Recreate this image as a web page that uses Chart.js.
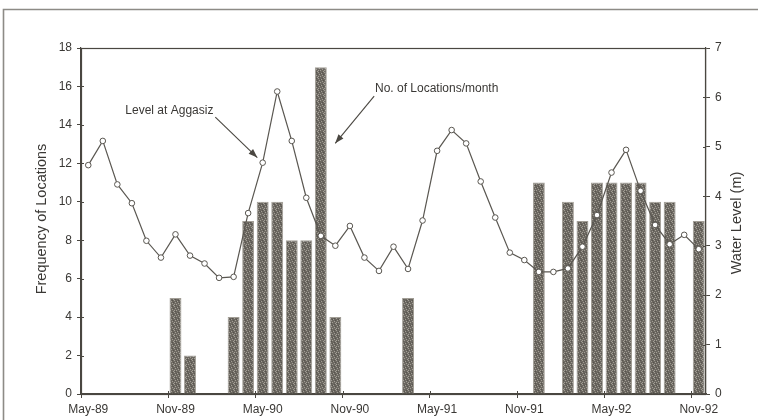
<!DOCTYPE html>
<html>
<head>
<meta charset="utf-8">
<script src="https://cdn.jsdelivr.net/npm/chart.js@4/dist/chart.umd.min.js"></script>
<style>
  html, body { margin: 0; padding: 0; background: #ffffff; }
  canvas { display: block; }
</style>
</head>
<body>
<canvas id="c" width="758" height="420"></canvas>
<script>
// Monthly categories, May-89 through Nov-92
const months = [
  "May-89","Jun-89","Jul-89","Aug-89","Sep-89","Oct-89","Nov-89","Dec-89",
  "Jan-90","Feb-90","Mar-90","Apr-90","May-90","Jun-90","Jul-90","Aug-90","Sep-90","Oct-90","Nov-90","Dec-90",
  "Jan-91","Feb-91","Mar-91","Apr-91","May-91","Jun-91","Jul-91","Aug-91","Sep-91","Oct-91","Nov-91","Dec-91",
  "Jan-92","Feb-92","Mar-92","Apr-92","May-92","Jun-92","Jul-92","Aug-92","Sep-92","Oct-92","Nov-92"
];

// Number of locations recorded per month (left axis)
const locationsPerMonth = [
  null, null, null, null, null, null, 5, 2,
  null, null, 4, 9, 10, 10, 8, 8, 17, 4, null, null,
  null, null, 5, null, null, null, null, null, null, null, null, 11,
  null, 10, 9, 11, 11, 11, 11, 10, 10, null, 9
];

// Water level at Aggasiz in metres (right axis)
const waterLevel = [
  4.63, 5.12, 4.24, 3.86, 3.10, 2.76, 3.23, 2.80,
  2.64, 2.35, 2.37, 3.66, 4.68, 6.12, 5.12, 3.97, 3.20, 3.00, 3.40, 2.76,
  2.49, 2.98, 2.53, 3.51, 4.92, 5.34, 5.07, 4.30, 3.57, 2.86, 2.71, 2.47,
  2.47, 2.54, 2.98, 3.62, 4.48, 4.94, 4.11, 3.42, 3.03, 3.22, 2.93
];

const freqTicks = { min: 0, max: 18, step: 2 };
const levelTicks = { min: 0, max: 7, step: 1 };

const FONT = "'Liberation Sans', Arial, sans-serif";
const INK = "#4a4741";
const TEXT = "#3a3835";

// Stippled grey fill for the bars
function makeBarPattern() {
  const t = document.createElement("canvas");
  t.width = 6; t.height = 6;
  const g = t.getContext("2d");
  g.fillStyle = "#6c6861";
  g.fillRect(0, 0, 6, 6);
  g.fillStyle = "#a29e95";
  [[0,0],[3,1],[1,2],[4,3],[2,4],[5,5],[0,4]].forEach(p => g.fillRect(p[0], p[1], 1, 1));
  g.fillStyle = "#57544e";
  [[2,1],[5,2],[1,5],[4,0]].forEach(p => g.fillRect(p[0], p[1], 1, 1));
  return document.getElementById("c").getContext("2d").createPattern(t, "repeat");
}

function drawArrow(ctx, x0, y0, x1, y1) {
  ctx.save();
  ctx.strokeStyle = INK;
  ctx.fillStyle = INK;
  ctx.lineWidth = 1.1;
  ctx.beginPath();
  ctx.moveTo(x0, y0);
  ctx.lineTo(x1, y1);
  ctx.stroke();
  const a = Math.atan2(y1 - y0, x1 - x0);
  const len = 9, half = 3.2;
  ctx.beginPath();
  ctx.moveTo(x1, y1);
  ctx.lineTo(x1 - len * Math.cos(a) + half * Math.sin(a), y1 - len * Math.sin(a) - half * Math.cos(a));
  ctx.lineTo(x1 - len * Math.cos(a) - half * Math.sin(a), y1 - len * Math.sin(a) + half * Math.cos(a));
  ctx.closePath();
  ctx.fill();
  ctx.restore();
}

// Callout labels, anchored in category index / left-axis units
const callouts = [
  { text: "Level at Aggasiz", tx: 5.58, ty: 14.72, from: [8.74, 14.4], to: [11.63, 12.3] },
  { text: "No. of Locations/month", tx: 23.97, ty: 15.88, from: [19.67, 15.5], to: [16.99, 13.04] }
];

const framePlugin = {
  id: "frame",
  beforeDraw(chart) {
    const ctx = chart.ctx;
    ctx.save();
    ctx.fillStyle = "#ffffff";
    ctx.fillRect(0, 0, chart.width, chart.height);
    ctx.strokeStyle = "#8d8b86";
    ctx.lineWidth = 1.6;
    ctx.beginPath();
    ctx.moveTo(3.5, chart.height + 5);
    ctx.lineTo(3.5, 9.5);
    ctx.lineTo(chart.width + 5, 9.5);
    ctx.stroke();
    ctx.restore();
  },
  afterDraw(chart) {
    const ctx = chart.ctx;
    const a = chart.chartArea;
    const xs = chart.scales.x, ys = chart.scales.y, ys1 = chart.scales.y1;
    ctx.save();
    // plot box
    ctx.strokeStyle = INK;
    ctx.lineWidth = 1.2;
    ctx.strokeRect(Math.round(a.left) + 0.5, Math.round(a.top) + 0.5,
                   Math.round(a.right - a.left) - 1, Math.round(a.bottom - a.top));
    // inner halves of the tick marks
    ctx.lineWidth = 1;
    ctx.beginPath();
    for (let v = freqTicks.min; v <= freqTicks.max; v += freqTicks.step) {
      const y = Math.round(ys.getPixelForValue(v)) + 0.5;
      ctx.moveTo(a.left, y); ctx.lineTo(a.left + 3, y);
    }
    for (let v = levelTicks.min; v <= levelTicks.max; v += levelTicks.step) {
      const y = Math.round(ys1.getPixelForValue(v)) + 0.5;
      ctx.moveTo(a.right - 3, y); ctx.lineTo(a.right, y);
    }
    for (let i = 0; i < months.length; i += 6) {
      const x = Math.round(xs.getPixelForValue(i - 0.5)) + 0.5;
      ctx.moveTo(x, a.bottom); ctx.lineTo(x, a.bottom - 3);
    }
    ctx.stroke();

    // axis titles
    ctx.fillStyle = TEXT;
    ctx.font = "14.5px " + FONT;
    ctx.textAlign = "center";
    ctx.textBaseline = "middle";
    const midY = (a.top + a.bottom) / 2;
    ctx.save();
    ctx.translate(42, midY - 2);
    ctx.rotate(-Math.PI / 2);
    ctx.fillText("Frequency of Locations", 0, 0);
    ctx.restore();
    ctx.save();
    ctx.translate(737, midY + 2);
    ctx.rotate(-Math.PI / 2);
    ctx.fillText("Water Level (m)", 0, 0);
    ctx.restore();

    // callouts
    ctx.font = "12px " + FONT;
    callouts.forEach(c => {
      ctx.fillStyle = TEXT;
      ctx.fillText(c.text, xs.getPixelForValue(c.tx), ys.getPixelForValue(c.ty));
      drawArrow(ctx,
        xs.getPixelForValue(c.from[0]), ys.getPixelForValue(c.from[1]),
        xs.getPixelForValue(c.to[0]), ys.getPixelForValue(c.to[1]));
    });
    ctx.restore();
  }
};

const tickFont = { family: FONT, size: 12 };

new Chart(document.getElementById("c"), {
  data: {
    labels: months,
    datasets: [
      {
        type: "line",
        label: "Level at Aggasiz",
        data: waterLevel,
        yAxisID: "y1",
        order: 0,
        borderColor: "#5a5751",
        borderWidth: 1.2,
        tension: 0,
        pointRadius: 2.8,
        pointBackgroundColor: "#ffffff",
        pointBorderColor: "#5a5751",
        pointBorderWidth: 1
      },
      {
        type: "bar",
        label: "No. of Locations/month",
        data: locationsPerMonth,
        yAxisID: "y",
        order: 1,
        backgroundColor: makeBarPattern(),
        borderColor: "#a29e96",
        borderWidth: 1,
        barPercentage: 0.82,
        categoryPercentage: 1.0
      }
    ]
  },
  options: {
    responsive: false,
    animation: false,
    events: [],
    layout: { padding: { top: 48, left: 0, right: 0, bottom: 0 } },
    plugins: { legend: { display: false }, tooltip: { enabled: false } },
    scales: {
      x: {
        type: "category",
        offset: true,
        afterFit(s) { s.height = 26; },
        grid: {
          offset: true,
          drawOnChartArea: false,
          tickLength: 4,
          color: ctx => (ctx.index % 6 === 0 ? INK : "rgba(0,0,0,0)")
        },
        border: { color: INK, width: 1.2 },
        ticks: {
          autoSkip: false,
          maxRotation: 0,
          padding: 4,
          color: TEXT,
          font: tickFont,
          callback(v, i) { return i % 6 === 0 ? months[i] : ""; }
        }
      },
      y: {
        position: "left",
        min: freqTicks.min,
        max: freqTicks.max,
        afterFit(s) { s.width = 81; },
        grid: { drawOnChartArea: false, tickLength: 4, color: INK },
        border: { color: INK, width: 1.2 },
        ticks: { stepSize: freqTicks.step, padding: 5, color: TEXT, font: tickFont }
      },
      y1: {
        position: "right",
        min: levelTicks.min,
        max: levelTicks.max,
        afterFit(s) { s.width = 52; },
        grid: { drawOnChartArea: false, tickLength: 4, color: INK },
        border: { color: INK, width: 1.2 },
        ticks: { stepSize: levelTicks.step, padding: 5, color: TEXT, font: tickFont }
      }
    }
  },
  plugins: [framePlugin]
});
</script>
</body>
</html>
